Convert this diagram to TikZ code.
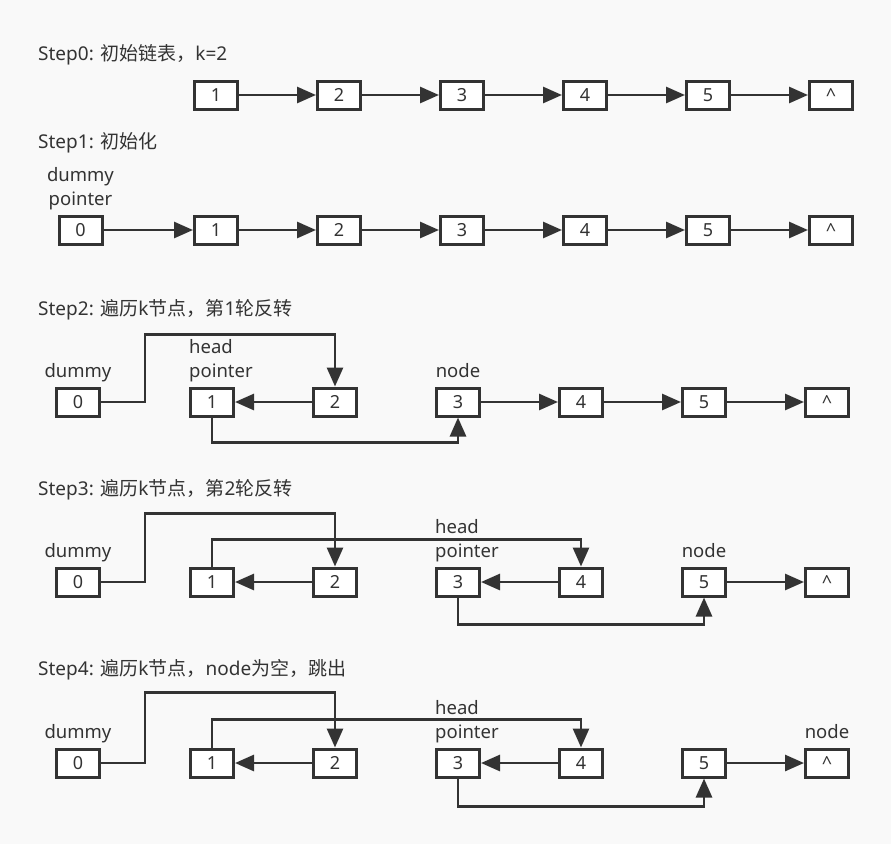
\documentclass[tikz,border=0pt]{standalone}
\usepackage{fontspec}
\setmainfont{Noto Sans}
\newfontfamily\cjk{Noto Sans CJK SC}
\usetikzlibrary{positioning,arrows.meta}
\definecolor{listInk}{RGB}{51,51,51}
\definecolor{listPaper}{RGB}{249,249,249}

\begin{document}
\begin{tikzpicture}[x=1pt, y=-1pt,
    cell/.style={draw=listInk, line width=3pt, fill=white, minimum width=43pt,
      minimum height=28pt, inner sep=0pt, text=listInk, font=\fontsize{18}{20}\selectfont},
    tag/.style={text=listInk, inner sep=0pt, align=left, text depth=5pt,
      font=\fontsize{18.5}{24}\selectfont},
    steptitle/.style={tag, anchor=west, font=\fontsize{19}{24}\selectfont},
    link/.style={-{Triangle[length=19pt,width=16pt]}, line width=2.8pt, color=listInk}
  ]
    \fill[listPaper] (0,0) rectangle (891,844);
    \useasboundingbox (0,0) rectangle (891,844);

    % Step0
    \node[steptitle] (t0) at (38,55) {Step0: {\cjk 初始链表，}k=2};
    \node[cell] (a1) at (216,95) {1};
    \node[cell, right=77pt of a1] (a2) {2};
    \node[cell, right=77pt of a2] (a3) {3};
    \node[cell, right=77pt of a3] (a4) {4};
    \node[cell, right=77pt of a4] (a5) {5};
    \node[cell, right=77pt of a5] (a6) {\textasciicircum};
    \draw[link] (a1) -- (a2);
    \draw[link] (a2) -- (a3);
    \draw[link] (a3) -- (a4);
    \draw[link] (a4) -- (a5);
    \draw[link] (a5) -- (a6);

    % Step1
    \node[steptitle] (t1) at (38,143) {Step1: {\cjk 初始化}};
    \node[cell] (b0) at (80.5,230) {0};
    \node[cell] (b1) at (216,230) {1};
    \node[cell, right=77pt of b1] (b2) {2};
    \node[cell, right=77pt of b2] (b3) {3};
    \node[cell, right=77pt of b3] (b4) {4};
    \node[cell, right=77pt of b4] (b5) {5};
    \node[cell, right=77pt of b5] (b6) {\textasciicircum};
    \node[tag, align=center, above=4pt of b0] (b0lbl) {dummy\\pointer};
    \draw[link] (b0) -- (b1);
    \draw[link] (b1) -- (b2);
    \draw[link] (b2) -- (b3);
    \draw[link] (b3) -- (b4);
    \draw[link] (b4) -- (b5);
    \draw[link] (b5) -- (b6);

    % Step2
    \node[steptitle] (t2) at (38,310) {Step2: {\cjk 遍历}k{\cjk 节点，第}1{\cjk 轮反转}};
    \node[cell] (c0) at (78,402) {0};
    \node[cell] (c1) at (212,402) {1};
    \node[cell, right=77pt of c1] (c2) {2};
    \node[cell, right=77pt of c2] (c3) {3};
    \node[cell, right=77pt of c3] (c4) {4};
    \node[cell, right=77pt of c4] (c5) {5};
    \node[cell, right=77pt of c5] (c6) {\textasciicircum};
    \node[tag, above=4pt of c0] (c0lbl) {dummy};
    \node[tag, anchor=south west] (c1lbl) at ([yshift=4pt]c1.north west) {head\\pointer};
    \node[tag, above=4pt of c3] (c3lbl) {node};
    \draw[link] (c0.east) -- ++(44,0) |- ([yshift=52pt]c2.north) -- (c2.north);
    \draw[link] (c2) -- (c1);
    \draw[link] (c1.south) -- ([yshift=-25pt]c1.south) -| (c3.south);
    \draw[link] (c3) -- (c4);
    \draw[link] (c4) -- (c5);
    \draw[link] (c5) -- (c6);

    % Step3
    \node[steptitle] (t3) at (38,490) {Step3: {\cjk 遍历}k{\cjk 节点，第}2{\cjk 轮反转}};
    \node[cell] (d0) at (78,582) {0};
    \node[cell] (d1) at (212,582) {1};
    \node[cell, right=77pt of d1] (d2) {2};
    \node[cell, right=77pt of d2] (d3) {3};
    \node[cell, right=77pt of d3] (d4) {4};
    \node[cell, right=77pt of d4] (d5) {5};
    \node[cell, right=77pt of d5] (d6) {\textasciicircum};
    \node[tag, above=4pt of d0] (d0lbl) {dummy};
    \node[tag, anchor=south west] (d3lbl) at ([yshift=4pt]d3.north west) {head\\pointer};
    \node[tag, above=4pt of d5] (d5lbl) {node};
    \draw[link] (d0.east) -- ++(44,0) |- ([yshift=53pt]d2.north) -- (d2.north);
    \draw[link] (d1.north) |- ([yshift=27pt]d4.north) -- (d4.north);
    \draw[link] (d2) -- (d1);
    \draw[link] (d4) -- (d3);
    \draw[link] (d3.south) -- ([yshift=-27pt]d3.south) -| (d5.south);
    \draw[link] (d5) -- (d6);

    % Step4
    \node[steptitle] (t4) at (38,670) {Step4: {\cjk 遍历}k{\cjk 节点，}node{\cjk 为空，跳出}};
    \node[cell] (e0) at (78,763) {0};
    \node[cell] (e1) at (212,763) {1};
    \node[cell, right=77pt of e1] (e2) {2};
    \node[cell, right=77pt of e2] (e3) {3};
    \node[cell, right=77pt of e3] (e4) {4};
    \node[cell, right=77pt of e4] (e5) {5};
    \node[cell, right=77pt of e5] (e6) {\textasciicircum};
    \node[tag, above=4pt of e0] (e0lbl) {dummy};
    \node[tag, anchor=south west] (e3lbl) at ([yshift=4pt]e3.north west) {head\\pointer};
    \node[tag, above=4pt of e6] (e6lbl) {node};
    \draw[link] (e0.east) -- ++(44,0) |- ([yshift=55pt]e2.north) -- (e2.north);
    \draw[link] (e1.north) |- ([yshift=28pt]e4.north) -- (e4.north);
    \draw[link] (e2) -- (e1);
    \draw[link] (e4) -- (e3);
    \draw[link] (e3.south) -- ([yshift=-28pt]e3.south) -| (e5.south);
    \draw[link] (e5) -- (e6);
\end{tikzpicture}
\end{document}
